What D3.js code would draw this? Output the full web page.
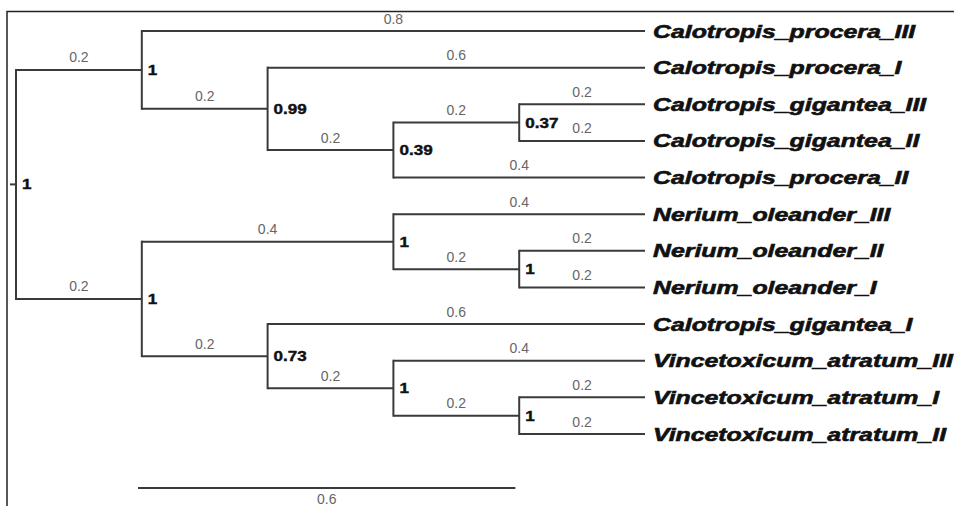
<!DOCTYPE html>
<html>
<head>
<meta charset="utf-8">
<script src="https://cdn.jsdelivr.net/npm/d3@7"></script>
<style>
  body { margin: 0; background: #fff; }
  svg { display: block; }
  .branch { fill: none; stroke: #3a3a3a; stroke-width: 2; }
  .blen { font-family: "Liberation Sans", Arial, sans-serif; font-size: 14px; fill: #666; }
  .supp { font-family: "Liberation Sans", Arial, sans-serif; font-size: 14px; font-weight: bold; fill: #111; stroke: #111; stroke-width: 0.4; }
  .tip { font-family: "Liberation Sans", Arial, sans-serif; font-size: 18px; font-weight: bold; font-style: italic; fill: #111; stroke: #111; stroke-width: 0.6; }
</style>
</head>
<body>
<svg id="chart" width="954" height="506"></svg>
<script>
// tree as a parent table; children keep the order listed here (top to bottom)
var nodeIds = ["root", "A", "Calotropis_procera_III", "n99", "Calotropis_procera_I", "n39", "n37",
  "Calotropis_gigantea_III", "Calotropis_gigantea_II", "Calotropis_procera_II",
  "B", "nN", "Nerium_oleander_III", "nN2", "Nerium_oleander_II", "Nerium_oleander_I",
  "n73", "Calotropis_gigantea_I", "nV", "Vincetoxicum_atratum_III", "nV2",
  "Vincetoxicum_atratum_I", "Vincetoxicum_atratum_II"];
var parentIds = ["", "root", "A", "A", "n99", "n99", "n39", "n37", "n37", "n39",
  "root", "B", "nN", "nN", "nN2", "nN2",
  "B", "n73", "n73", "nV", "nV", "nV2", "nV2"];
var branchLengths = [0, 0.2, 0.8, 0.2, 0.6, 0.2, 0.2, 0.2, 0.2, 0.4,
  0.2, 0.4, 0.4, 0.2, 0.2, 0.2,
  0.2, 0.6, 0.2, 0.4, 0.2, 0.2, 0.2];
var supportValues = ["1", "1", "", "0.99", "", "0.39", "0.37", "", "", "",
  "1", "1", "", "1", "", "",
  "0.73", "", "1", "", "1", "", ""];
var scaleBarValue = 0.6;

var rows = nodeIds.map(function (id, i) {
  return { id: id, parent: parentIds[i] || null, len: branchLengths[i], support: supportValues[i] };
});
var root = d3.stratify().id(function (d) { return d.id; }).parentId(function (d) { return d.parent; })(rows);

// cumulative branch length
root.eachBefore(function (n) {
  n.dist = n.parent ? n.parent.dist + n.data.len : 0;
});
var leaves = root.leaves();
var maxDist = d3.max(leaves, function (n) { return n.dist; });

var xs = d3.scaleLinear().domain([0, maxDist]).range([16, 645]);
var ys = d3.scaleLinear().domain([0, leaves.length - 1]).range([31, 434]);

leaves.forEach(function (n, i) { n.yPos = ys(i); });
root.eachAfter(function (n) {
  if (n.children) {
    n.yPos = (n.children[0].yPos + n.children[n.children.length - 1].yPos) / 2;
  }
});

var svg = d3.select("#chart");

// frame
svg.append("path").attr("d", "M7,506V11.5H954")
  .attr("fill", "none").attr("stroke", "#222").attr("stroke-width", 1.5);

var g = svg.append("g");

// horizontal branches
root.descendants().forEach(function (n) {
  if (!n.parent) { return; }
  g.append("line").attr("class", "branch")
    .attr("x1", xs(n.parent.dist)).attr("x2", xs(n.dist))
    .attr("y1", n.yPos).attr("y2", n.yPos);
  g.append("text").attr("class", "blen")
    .attr("x", (xs(n.parent.dist) + xs(n.dist)) / 2)
    .attr("y", n.yPos - 7.5)
    .attr("text-anchor", "middle")
    .text(n.data.len);
});

// vertical connectors
root.descendants().forEach(function (n) {
  if (!n.children) { return; }
  var first = n.children[0], last = n.children[n.children.length - 1];
  g.append("line").attr("class", "branch")
    .attr("x1", xs(n.dist)).attr("x2", xs(n.dist))
    .attr("y1", first.yPos - 1).attr("y2", last.yPos + 1);
  if (n.data.support) {
    g.append("text").attr("class", "supp")
      .attr("transform", "translate(" + (xs(n.dist) + 6) + "," + (n.yPos + 5) + ") scale(1.22,1)")
      .text(n.data.support);
  }
});

// root stub
g.append("line").attr("class", "branch")
  .attr("x1", xs(0) - 6).attr("x2", xs(0))
  .attr("y1", root.yPos).attr("y2", root.yPos);

// tip names
leaves.forEach(function (n) {
  g.append("text").attr("class", "tip")
    .attr("transform", "translate(" + (xs(n.dist) + 8) + "," + (n.yPos + 6.5) + ") scale(1.38,1)")
    .text(n.data.id);
});

// scale bar
var barX = 138, barY = 488;
svg.append("line").attr("class", "branch")
  .attr("x1", barX).attr("x2", barX + xs(scaleBarValue) - xs(0))
  .attr("y1", barY).attr("y2", barY);
svg.append("text").attr("class", "blen")
  .attr("x", barX + (xs(scaleBarValue) - xs(0)) / 2)
  .attr("y", 504).attr("text-anchor", "middle")
  .text(scaleBarValue);
</script>
</body>
</html>
